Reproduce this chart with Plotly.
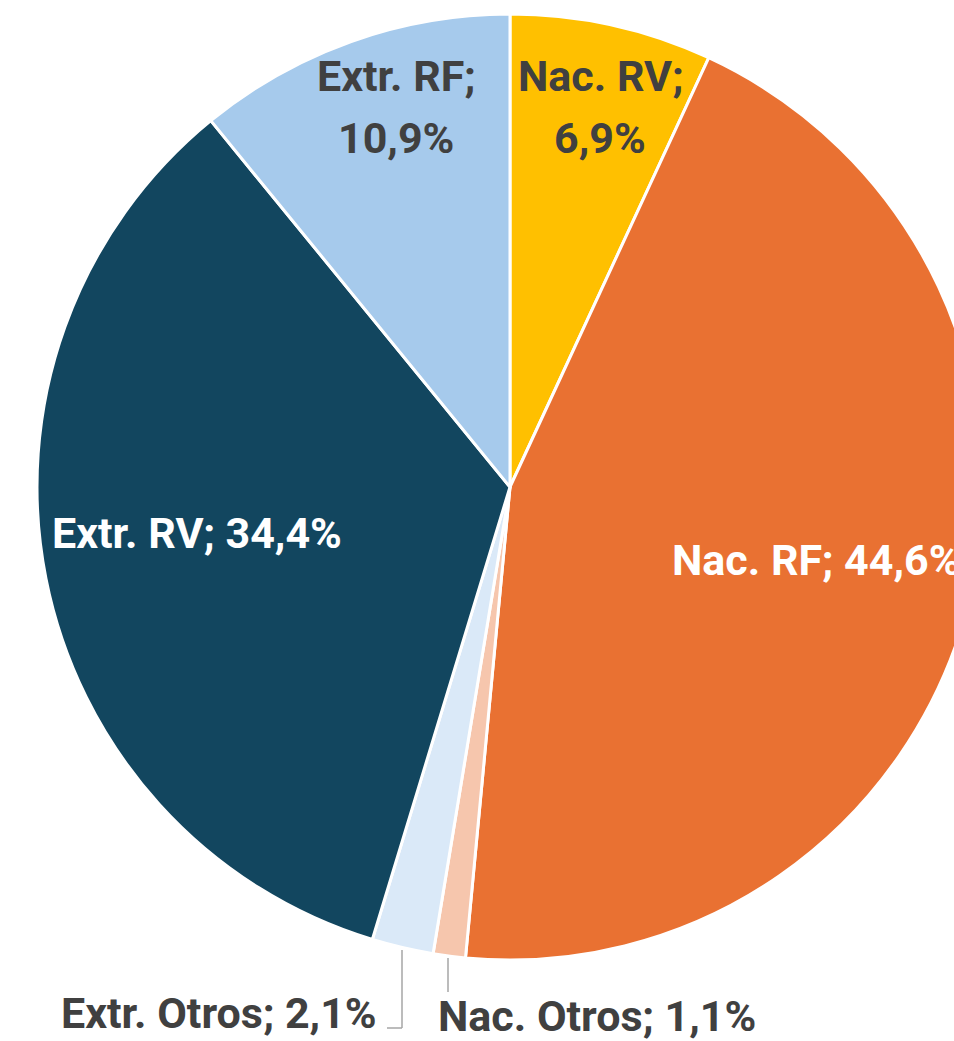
import plotly.graph_objects as go

# ---- data ----
labels = ["Nac. RV", "Nac. RF", "Nac. Otros", "Extr. Otros", "Extr. RV", "Extr. RF"]
values = [6.9, 44.6, 1.1, 2.1, 34.4, 10.9]

# ---- style ----
colors = ["#FFC000", "#E97132", "#F6C6AD", "#DAE9F8", "#12465F", "#A6CAEC"]
text_colors = ["#404040", "#FFFFFF", "#404040", "#404040", "#FFFFFF", "#404040"]
FONT = "Roboto, Liberation Sans Narrow, Arial Narrow, sans-serif"
FSIZE = 43
W, H = 990, 1041
CX, CY, R = 510, 487, 473
ML, MT = CX - R, CY - R
MB = H - (CY + R)
MR = W - (CX + R)

# label anchor (pixels) and layout: multi-line or single
label_style = {
    "Nac. RV": dict(x=600, y=107, split=True, anchor="center"),
    "Extr. RF": dict(x=396, y=107, split=True, anchor="center"),
    "Nac. RF": dict(x=670, y=560, split=False, anchor="left"),
    "Extr. RV": dict(x=50, y=533, split=False, anchor="left"),
    "Extr. Otros": dict(x=379, y=1013, split=False, anchor="right"),
    "Nac. Otros": dict(x=436, y=1016, split=False, anchor="left"),
}
LINE_GAP = 62


def px(x):
    return (x - ML) / (2 * R)


def py(y):
    return (CY + R - y) / (2 * R)


def fmt(v):
    return f"{v:.1f}".replace(".", ",") + "%"


fig = go.Figure(
    go.Pie(
        labels=labels,
        values=values,
        sort=False,
        direction="clockwise",
        rotation=0,
        marker=dict(colors=colors, line=dict(color="#FFFFFF", width=3)),
        textinfo="none",
        hoverinfo="label+percent",
        showlegend=False,
        domain=dict(x=[0, 1], y=[0, 1]),
    )
)

annotations = []
for lab, val, tc in zip(labels, values, text_colors):
    st = label_style[lab]
    if st["split"]:
        lines = [lab + ";", fmt(val)]
        ys = [st["y"] - LINE_GAP / 2, st["y"] + LINE_GAP / 2]
    else:
        lines = [f"{lab}; {fmt(val)}"]
        ys = [st["y"]]
    for t, yy in zip(lines, ys):
        annotations.append(
            dict(
                text=f"<b>{t}</b>",
                x=px(st["x"]),
                y=py(yy),
                xref="paper",
                yref="paper",
                xanchor=st["anchor"],
                yanchor="middle",
                showarrow=False,
                font=dict(family=FONT, size=FSIZE, color=tc),
            )
        )

# leader lines for the small slices
shapes = [
    dict(type="line", xref="paper", yref="paper", x0=px(402), y0=py(950), x1=px(402), y1=py(1028),
         line=dict(color="#A6A6A6", width=1.5)),
    dict(type="line", xref="paper", yref="paper", x0=px(402), y0=py(1028), x1=px(387), y1=py(1028),
         line=dict(color="#A6A6A6", width=1.5)),
    dict(type="line", xref="paper", yref="paper", x0=px(448), y0=py(958), x1=px(448), y1=py(992),
         line=dict(color="#A6A6A6", width=1.5)),
]

fig.update_layout(
    width=W,
    height=H,
    margin=dict(l=ML, r=MR, t=MT, b=MB, pad=0),
    paper_bgcolor="#FFFFFF",
    plot_bgcolor="#FFFFFF",
    annotations=annotations,
    shapes=shapes,
)

fig.write_html(
    "out.html",
    config={"displayModeBar": False},
    post_script="document.body.style.margin='0';document.body.style.overflow='hidden';document.documentElement.style.overflow='hidden';",
)
